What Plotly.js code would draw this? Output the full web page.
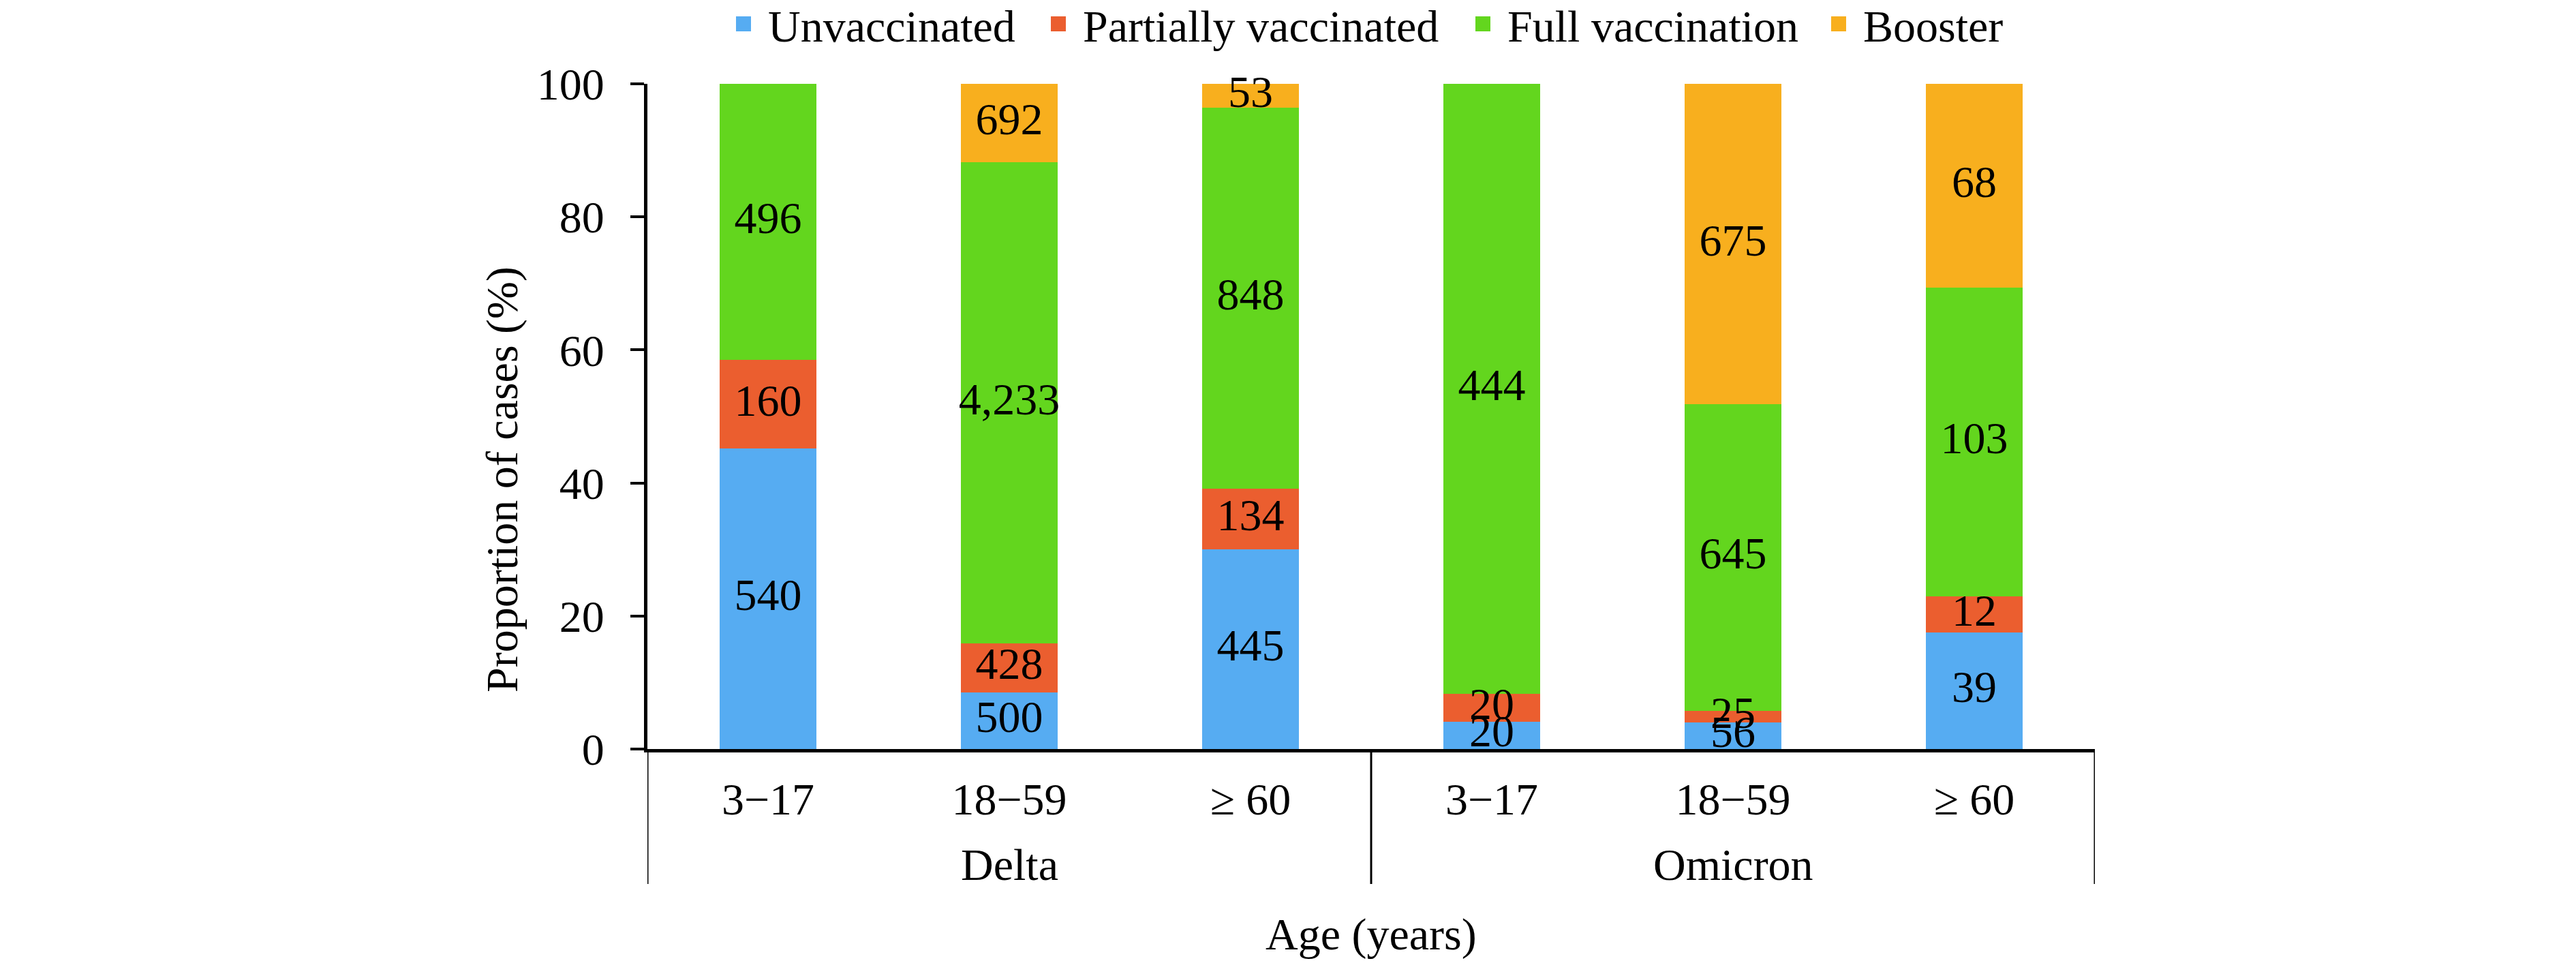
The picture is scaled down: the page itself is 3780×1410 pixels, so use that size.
<!DOCTYPE html>
<html>
<head>
<meta charset="utf-8">
<script src="https://cdn.plot.ly/plotly-3.0.1.min.js"></script>
<style>html,body{margin:0;padding:0;background:#fff;}</style>
</head>
<body>
<div id="chart" style="width:3780px;height:1410px;"></div>
<script>
// ---- data ----
const variants = ['Delta', 'Delta', 'Delta', 'Omicron', 'Omicron', 'Omicron'];
const ageGroups = ['3\u221217', '18\u221259', '\u2265 60', '3\u221217', '18\u221259', '\u2265 60'];
const variantNames = ['Delta', 'Omicron'];
const seriesNames = ['Unvaccinated', 'Partially vaccinated', 'Full vaccination', 'Booster'];
const seriesColors = ['#56ACF2', '#EB5E2F', '#63D61E', '#F8AF1E'];

// number of cases (bar labels)
const unvaccinatedCases = [540, 500, 445, 20, 56, 39];
const partialCases      = [160, 428, 134, 20, 25, 12];
const fullCases         = [496, 4233, 848, 444, 645, 103];
const boosterCases      = [0, 692, 53, 0, 675, 68];

// proportion of cases (%) (bar heights)
const unvaccinatedPct = [45.15, 8.54, 30.07, 4.13, 4.00, 17.57];
const partialPct      = [13.38, 7.31, 9.05, 4.13, 1.78, 5.41];
const fullPct         = [41.47, 72.32, 57.30, 91.74, 46.04, 46.40];
const boosterPct      = [0, 11.82, 3.58, 0, 48.18, 30.63];

const yTickVals = [0, 20, 40, 60, 80, 100];

// ---- layout helpers ----
const W = 3780, H = 1410;
const mL = 950, mR = 706, mT = 123, mB = 311;
const plotW = W - mL - mR, plotH = H - mT - mB;
const px2x = p => (p - mL) / plotW;
const py2y = p => (H - mB - p) / plotH;

const FONT = 'Liberation Serif, Times New Roman, serif';
const FS = 66;

// category keys (unique per bar) for the x axis
const xKeys = variants.map((v, i) => v + ' ' + ageGroups[i]);

const cases = [unvaccinatedCases, partialCases, fullCases, boosterCases];
const pcts = [unvaccinatedPct, partialPct, fullPct, boosterPct];
const legendIds = ['legend', 'legend2', 'legend3', 'legend4'];

const traces = seriesNames.map((name, i) => ({
  type: 'bar',
  name: name,
  x: xKeys,
  y: pcts[i],
  marker: {color: seriesColors[i], line: {width: 0}},
  legend: legendIds[i],
  hoverinfo: 'skip'
}));

// count labels, centred in each stacked segment (drawn above all bars)
const lblX = [], lblY = [], lblT = [];
pcts.forEach((arr, i) => {
  arr.forEach((v, j) => {
    if (cases[i][j] > 0) {
      let base = 0;
      for (let k = 0; k < i; k++) base += pcts[k][j];
      lblX.push(xKeys[j]);
      lblY.push(base + v / 2);
      lblT.push(cases[i][j].toLocaleString('en-US'));
    }
  });
});
traces.push({
  type: 'scatter',
  mode: 'text',
  x: lblX,
  y: lblY,
  text: lblT,
  textposition: 'middle center',
  textfont: {family: FONT, size: FS, color: '#000'},
  cliponaxis: false,
  showlegend: false,
  hoverinfo: 'skip'
});

// legend marker-left pixel positions
const legendLeft = [1080, 1542, 2165, 2687];
const legendCommon = (i) => ({
  orientation: 'h',
  x: px2x(legendLeft[i] - 25),
  xanchor: 'left',
  y: py2y(35),
  yanchor: 'middle',
  font: {family: FONT, size: FS, color: '#000'},
  itemwidth: 62,
  bgcolor: 'rgba(0,0,0,0)',
  borderwidth: 0
});

// group separators under the axis
const groupEdges = [-0.5, 2.5, 5.5];
const shapes = groupEdges.map(e => ({
  type: 'line', xref: 'x', yref: 'paper',
  x0: e, x1: e, y0: 0, y1: py2y(1297),
  line: {color: '#000', width: 3}
}));

const annotations = [
  {
    text: 'Proportion of cases (%)',
    xref: 'paper', yref: 'paper',
    x: px2x(737), y: py2y(704),
    xanchor: 'center', yanchor: 'middle',
    textangle: -90, showarrow: false,
    font: {family: FONT, size: FS, color: '#000'}
  },
  {
    text: 'Age (years)',
    xref: 'paper', yref: 'paper',
    x: px2x(2012), y: py2y(1371),
    xanchor: 'center', yanchor: 'middle',
    showarrow: false,
    font: {family: FONT, size: FS, color: '#000'}
  }
];
variantNames.forEach((v, g) => {
  annotations.push({
    text: v,
    xref: 'x', yref: 'paper',
    x: g * 3 + 1, y: py2y(1268),
    xanchor: 'center', yanchor: 'middle',
    showarrow: false,
    font: {family: FONT, size: FS, color: '#000'}
  });
});

const layout = {
  width: W,
  height: H,
  margin: {l: mL, r: mR, t: mT, b: mB, pad: 0, autoexpand: false},
  paper_bgcolor: '#fff',
  plot_bgcolor: '#fff',
  font: {family: FONT, size: FS, color: '#000'},
  barmode: 'stack',
  bargap: 0.6,
  showlegend: true,
  legend: legendCommon(0),
  legend2: legendCommon(1),
  legend3: legendCommon(2),
  legend4: legendCommon(3),
  xaxis: {
    type: 'category',
    range: [-0.5, 5.5],
    tickvals: xKeys,
    ticktext: ageGroups,
    showline: true,
    linecolor: '#000',
    linewidth: 5,
    ticks: '',
    showgrid: false,
    zeroline: false,
    tickfont: {family: FONT, size: FS, color: '#000'},
    ticklabelstandoff: 12
  },
  yaxis: {
    range: [0, 100],
    tickvals: yTickVals,
    ticktext: yTickVals.map(String),
    showline: true,
    linecolor: '#000',
    linewidth: 5,
    ticks: 'outside',
    ticklen: 20,
    tickwidth: 4,
    tickcolor: '#000',
    showgrid: false,
    zeroline: false,
    tickfont: {family: FONT, size: FS, color: '#000'},
    ticklabelstandoff: 25
  },
  shapes: shapes,
  annotations: annotations
};

Plotly.newPlot('chart', traces, layout, {staticPlot: true, displayModeBar: false}).then(gd => {
  // enlarge legend swatches to match reference square size
  document.querySelectorAll('.legendpoints path').forEach(p => {
    p.setAttribute('d', 'M11,11H-11V-11H11Z');
  });
});
</script>
</body>
</html>
